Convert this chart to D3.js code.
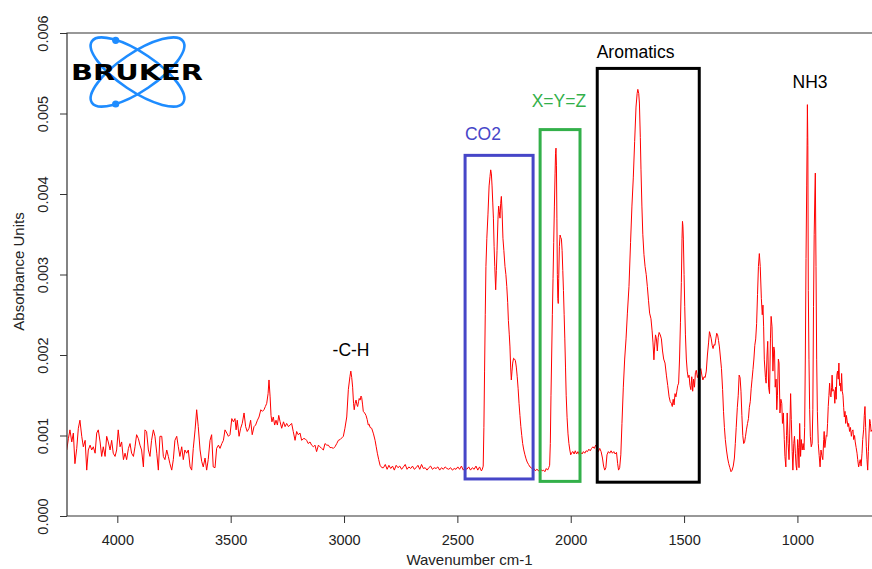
<!DOCTYPE html>
<html>
<head>
<meta charset="utf-8">
<script src="https://cdn.jsdelivr.net/npm/d3@7"></script>
<style>
  body { margin: 0; background: #fff; }
  svg text { font-family: "Liberation Sans", Arial, sans-serif; }
</style>
</head>
<body>
<svg id="chart" width="872" height="569"></svg>
<script>
// spectrum: [wavenumber cm-1, absorbance in 0.001 units]
const highWaveRegion = [
  [4223,0.82],[4216,0.96],[4209,1.07],[4201,0.92],[4194,1.03],[4187,0.65],[4179,0.84],[4172,1.09],[4165,1.19],[4157,0.99],
  [4150,0.86],[4142,0.94],[4135,0.57],[4128,0.82],[4120,0.88],[4113,0.82],[4106,0.86],[4098,0.78],[4091,1.03],[4084,1.07],
  [4076,0.92],[4069,0.74],[4062,0.86],[4054,0.74],[4047,0.99],[4040,0.92],[4032,0.82],[4025,0.94],[4018,0.78],[4010,0.74],
  [4003,0.82],[3996,1.07],[3988,0.86],[3981,0.92],[3973,0.70],[3966,0.78],[3959,0.70],[3951,0.84],[3944,0.90],[3937,0.78],
  [3929,0.74],[3922,0.86],[3915,1.01],[3907,0.96],[3900,0.88],[3893,0.82],[3885,0.61],[3878,1.07],[3871,1.05],[3863,0.82],
  [3856,0.74],[3849,0.94],[3841,1.07],[3834,0.99],[3826,0.78],[3819,0.57],[3812,0.99],[3804,0.99],[3797,0.74],[3790,0.70],
  [3782,0.82],[3775,0.74],[3768,0.65],[3760,0.57],[3753,0.70],[3746,0.94],[3738,0.99],[3731,0.86],[3724,0.74],[3716,0.86],
  [3709,0.70],[3702,0.82],[3694,0.78],[3687,0.82],[3679,0.61],[3672,0.57],[3665,0.84],[3657,1.07],[3650,1.32],[3643,1.11],
  [3635,0.82],[3628,0.68],[3621,0.61],[3613,0.72],[3606,0.57],[3599,0.70],[3591,0.94],[3584,1.01],[3577,0.61]
];

const ohBand = [
  [3569,0.60],[3562,0.84],[3554,0.88],[3547,0.84],[3539,0.90],[3532,0.94],[3525,1.07],[3517,1.03],[3510,0.99],[3503,1.01],
  [3495,1.21],[3488,1.17],[3481,1.21],[3476,1.07],[3471,1.19],[3463,0.99],[3456,1.09],[3449,1.15],[3441,1.28],[3434,1.11],
  [3427,1.05],[3419,1.09],[3412,1.19],[3405,1.01],[3397,1.11],[3390,1.13],[3382,1.19],[3375,1.23],[3367,1.32],[3360,1.30],
  [3353,1.32],[3347,1.36],[3341,1.40],[3335,1.52],[3331,1.69],[3326,1.48],[3322,1.25],[3318,1.17],[3312,1.23],[3306,1.13],
  [3300,1.19],[3294,1.13],[3288,1.25],[3282,1.17],[3275,1.09],[3267,1.17],[3260,1.11],[3253,1.15],[3245,1.11],[3238,1.13],
  [3231,1.15],[3224,1.05],[3216,0.94],[3209,1.05],[3202,1.01],[3194,1.03],[3187,0.94],[3180,0.96],[3172,0.96],[3165,0.94],
  [3158,0.90],[3150,0.92],[3143,0.88],[3135,0.86],[3128,0.88],[3121,0.80],[3113,0.88],[3106,0.86],[3099,0.84],[3091,0.82],
  [3084,0.90],[3076,0.88],[3069,0.88],[3062,0.85],[3054,0.85],[3047,0.84],[3040,0.86],[3032,0.90],[3025,0.94]
];

const chBand = [
  [3017,0.95],[3010,0.97],[3003,0.99],[2996,1.09],[2988,1.23],[2981,1.57],[2974,1.73],[2970,1.80],[2966,1.72],[2962,1.60],
  [2958,1.40],[2955,1.32],[2951,1.40],[2947,1.44],[2943,1.38],[2940,1.36],[2936,1.42],[2933,1.46],[2929,1.44],[2925,1.49],
  [2922,1.47],[2918,1.38],[2915,1.30],[2909,1.28],[2903,1.25],[2898,1.20],[2893,1.13],[2889,1.14],[2885,1.10],[2878,1.09],
  [2870,1.02],[2863,0.94],[2858,0.86],[2853,0.78],[2847,0.70],[2841,0.63],[2833,0.60]
];

const flatBaseline = [
  [2826,0.60],[2818,0.64],[2810,0.58],[2802,0.63],[2794,0.59],[2786,0.62],[2778,0.57],[2770,0.63],[2762,0.60],[2754,0.62],
  [2746,0.58],[2738,0.61],[2730,0.64],[2722,0.58],[2714,0.61],[2706,0.59],[2698,0.62],[2690,0.58],[2682,0.60],[2674,0.63],
  [2666,0.58],[2658,0.64],[2650,0.59],[2642,0.60],[2634,0.57],[2626,0.60],[2618,0.62],[2610,0.58],[2602,0.60],[2594,0.59],
  [2586,0.61],[2578,0.57],[2570,0.60],[2562,0.58],[2554,0.61],[2546,0.59],[2538,0.58],[2530,0.60],[2522,0.57],[2514,0.59],
  [2506,0.58],[2498,0.61],[2490,0.58],[2482,0.62],[2474,0.57],[2466,0.60],[2458,0.58],[2450,0.61],[2442,0.57],[2434,0.60],
  [2426,0.58],[2418,0.62],[2410,0.57],[2402,0.61],[2394,0.56],[2390,0.58]
];

const co2Band = [
  [2386,0.62],[2383,1.10],[2380,1.80],[2377,2.50],[2374,3.10],[2370,3.45],[2365,3.75],[2360,4.10],[2356,4.22],[2353,4.30],
  [2350,4.25],[2347,4.10],[2344,3.90],[2341,3.70],[2338,3.35],[2335,3.10],[2331,2.81],[2328,3.05],[2325,3.30],[2321,3.68],
  [2318,3.85],[2315,3.78],[2312,3.70],[2309,3.88],[2306,3.97],[2303,3.80],[2299,3.45],[2295,3.30],[2290,3.10],[2286,3.00],
  [2282,2.85],[2278,2.65],[2275,2.43],[2271,2.25],[2268,2.10],[2265,1.85],[2262,1.69],[2259,1.80],[2256,1.90],[2252,1.96],
  [2248,1.95],[2244,1.93],[2240,1.85],[2236,1.73],[2232,1.58],[2228,1.40],[2224,1.25],[2220,1.11],[2216,1.00],[2212,0.90],
  [2207,0.82],[2202,0.76],[2197,0.71],[2192,0.67],[2186,0.64],[2180,0.61],[2174,0.60],[2168,0.58],[2162,0.59],[2156,0.56],
  [2150,0.58],[2144,0.57],[2138,0.55],[2132,0.58],[2126,0.56],[2120,0.57],[2114,0.55],[2108,0.59],[2102,0.57],[2097,0.60],
  [2093,0.63]
];

const xyzBand = [
  [2090,0.90],[2087,1.50],[2084,2.00],[2081,2.50],[2078,2.95],[2075,3.40],[2072,3.85],[2069,4.25],[2067,4.50],[2065,4.57],
  [2063,4.35],[2061,3.70],[2059,3.00],[2057,2.70],[2055,2.64],[2053,2.95],[2050,3.35],[2047,3.49],[2044,3.46],[2041,3.44],
  [2038,3.30],[2035,3.05],[2032,2.80],[2029,2.50],[2026,2.20],[2023,1.85],[2020,1.50],[2016,1.22],[2012,1.02],[2008,0.90],
  [2004,0.82],[2000,0.76],[1995,0.79],[1990,0.80],[1985,0.77],[1980,0.81],[1974,0.77],[1968,0.80],[1962,0.76],[1956,0.79],
  [1950,0.77],[1944,0.80],[1938,0.78],[1932,0.81],[1926,0.80],[1920,0.83],[1914,0.81],[1908,0.84],[1902,0.86],[1896,0.84],
  [1890,0.88],[1884,0.85],[1878,0.80],[1872,0.84],[1866,0.80],[1860,0.72],[1855,0.62],[1850,0.57],[1845,0.60],[1840,0.76],
  [1834,0.80],[1828,0.78],[1822,0.81],[1816,0.78],[1810,0.80],[1804,0.77],[1798,0.79],[1793,0.65],[1789,0.57],[1784,0.60]
];

const aromaticBand = [
  [1779,0.76],[1774,1.15],[1768,1.60],[1762,1.95],[1756,2.20],[1750,2.52],[1743,2.85],[1736,3.40],[1730,3.85],[1724,4.20],
  [1718,4.65],[1712,5.08],[1707,5.25],[1704,5.30],[1700,5.25],[1697,5.13],[1693,4.70],[1690,4.30],[1686,3.85],[1682,3.50],
  [1677,3.25],[1672,3.10],[1667,3.00],[1662,2.85],[1657,2.68],[1652,2.52],[1646,2.45],[1641,2.30],[1637,2.15],[1633,1.94],
  [1630,2.10],[1626,2.25],[1622,2.20],[1618,2.05],[1614,2.22],[1610,2.28],[1605,2.25],[1600,2.20],[1595,2.05],[1590,1.95],
  [1584,1.90],[1578,1.75],[1572,1.62],[1566,1.48],[1561,1.42],[1556,1.40],[1552,1.36],[1548,1.45],[1544,1.38],[1540,1.52],
  [1536,1.48],[1532,1.55],[1528,1.62],[1524,1.65],[1520,1.95],[1516,2.40],[1512,2.90],[1509,3.45],[1507,3.66],[1505,3.60],
  [1503,3.43],[1500,3.00],[1497,2.60],[1494,2.25],[1490,1.95],[1486,1.80],[1482,1.72],[1478,1.75],[1474,1.62],[1470,1.57],
  [1466,1.73],[1462,1.55],[1458,1.70],[1454,1.60],[1450,1.78],[1446,1.81],[1441,1.72],[1436,1.76],[1431,1.80],[1426,1.83],
  [1421,1.74],[1417,1.69],[1412,1.73],[1407,1.72],[1402,1.80],[1397,2.00],[1392,2.15],[1388,2.29],[1384,2.25],[1380,2.20],
  [1376,2.12],[1372,2.08],[1368,2.13],[1364,2.12],[1360,2.20],[1356,2.27],[1352,2.25],[1348,2.18],[1344,2.10],[1339,1.95],
  [1335,1.83],[1330,1.57],[1326,1.30],[1322,1.10],[1318,0.95],[1313,0.82],[1308,0.72],[1303,0.65],[1298,0.60]
];

const fingerprint = [
  [1293,0.55],[1288,0.57],[1283,0.62],[1278,0.72],[1274,0.90],[1270,1.10],[1265,1.35],[1261,1.50],[1257,1.75],[1253,1.72],
  [1249,1.55],[1245,1.25],[1241,1.00],[1237,0.90],[1233,0.92],[1229,0.99],[1225,1.07],[1220,1.15],[1216,1.21],[1212,1.35],
  [1208,1.42],[1204,1.58],[1200,1.70],[1196,1.82],[1192,1.95],[1188,2.12],[1184,2.20],[1180,2.39],[1176,2.75],[1172,3.10],
  [1168,3.26],[1164,3.10],[1159,2.70],[1155,2.50],[1152,2.62],[1149,2.35],[1146,1.94],[1141,1.72],[1138,1.65],[1134,2.00],
  [1131,2.17],[1127,1.60],[1123,1.52],[1119,2.20],[1116,2.48],[1112,2.35],[1108,1.80],[1104,2.10],[1101,2.05],[1098,1.60],
  [1094,1.70],[1091,1.32],[1088,1.50],[1084,1.95],[1081,1.90],[1077,1.28],[1073,1.45],[1069,1.40],[1066,1.15],[1062,1.28],
  [1058,0.95],[1055,0.74],[1051,0.61],[1048,1.00],[1045,1.28],[1041,0.90],[1037,0.70],[1034,1.03],[1030,1.52],[1027,1.20],
  [1023,0.80],[1020,0.57],[1016,0.90],[1013,0.99],[1009,0.78],[1006,0.63],[1003,0.57],[999,0.95],[996,0.85],[993,0.60],
  [990,1.15],[986,0.74],[983,0.95],[979,0.82],[975,0.90],[971,0.82],[968,1.10],[965,2.00],[962,3.20],[959,4.10],
  [957,4.70],[956,5.11],[954,4.60],[952,2.80],[949,1.94],[946,1.32],[943,0.99],[939,0.86],[935,0.90],[932,1.32],
  [929,2.60],[926,3.50],[923,4.00],[921,4.26],[918,3.10],[915,1.94],[912,1.30],[908,0.90],[904,0.75],[900,0.61],
  [896,0.82],[892,0.75],[888,0.70],[884,0.95],[882,1.05],[879,0.85],[876,0.92],[873,1.00],[870,0.99],[867,1.15],
  [864,1.36],[861,1.50],[858,1.65],[855,1.50],[852,1.48],[849,1.60],[847,1.75],[844,1.55],[841,1.57],[838,1.55],
  [835,1.40],[832,1.60],[829,1.45],[826,1.75],[823,1.80],[820,1.70],[817,1.90],[814,1.62],[811,1.65],[808,1.55],
  [805,1.77],[802,1.55],[799,1.50],[796,1.35],[793,1.23],[790,1.30],[787,1.15],[784,1.25],[781,1.19],[777,1.11],
  [774,1.15],[770,1.05],[766,1.10],[762,0.99],[759,1.05],[755,1.07],[752,0.95],[748,1.00],[745,0.92],[741,0.85],
  [737,0.78],[734,0.70],[730,0.61],[727,0.65],[723,0.70],[719,0.62],[715,0.78],[712,0.95],[708,1.07],[705,1.25],
  [702,1.36],[699,1.10],[696,0.86],[693,0.70],[690,0.57],[687,0.80],[684,1.03],[681,1.20],[678,1.15],[675,1.05],
  [672,1.07]
];

const xTickValues = [4000, 3500, 3000, 2500, 2000, 1500, 1000];
const yTickValues = [0, 1, 2, 3, 4, 5, 6];

// highlighted bands, in data units
const annotationBoxes = [
  { wnFrom: 2466, wnTo: 2166, auFrom: 0.46, auTo: 4.48, color: '#4646c8' },
  { wnFrom: 2135, wnTo: 1959, auFrom: 0.43, auTo: 4.80, color: '#33b04a' },
  { wnFrom: 1883, wnTo: 1433, auFrom: 0.42, auTo: 5.56, color: '#000000' }
];

const annotationLabels = [
  { text: '-C-H', wn: 2969, au: 1.99, color: '#000000' },
  { text: 'CO2', wn: 2387, au: 4.67, color: '#4646c8' },
  { text: 'X=Y=Z', wn: 2052, au: 5.08, color: '#33b04a' },
  { text: 'Aromatics', wn: 1714, au: 5.69, color: '#000000' },
  { text: 'NH3', wn: 944, au: 5.32, color: '#000000' }
];

const spectrum = [].concat(highWaveRegion, ohBand, chBand, flatBaseline, co2Band, xyzBand, aromaticBand, fingerprint);

const plotLeft = 67, plotRight = 872, plotTop = 33, plotBottom = 516;
const axisColor = '#333';

const svg = d3.select('#chart');

const x = d3.scaleLinear().domain([4222, 671]).range([plotLeft, plotRight]);
const y = d3.scaleLinear().domain([0, 6]).range([plotBottom, plotTop]);

svg.append('defs').append('clipPath')
  .attr('id', 'plot-clip')
  .append('rect')
  .attr('x', plotLeft).attr('y', plotTop)
  .attr('width', plotRight - plotLeft).attr('height', plotBottom - plotTop);

// spectrum line
svg.append('path')
  .datum(spectrum)
  .attr('clip-path', 'url(#plot-clip)')
  .attr('fill', 'none')
  .attr('stroke', '#ff0000')
  .attr('stroke-width', 1)
  .attr('stroke-linejoin', 'round')
  .attr('d', d3.line().x(d => x(d[0])).y(d => y(d[1])));

// annotation boxes
svg.append('g')
  .selectAll('rect')
  .data(annotationBoxes)
  .enter().append('rect')
  .attr('x', d => x(d.wnFrom))
  .attr('y', d => y(d.auTo))
  .attr('width', d => x(d.wnTo) - x(d.wnFrom))
  .attr('height', d => y(d.auFrom) - y(d.auTo))
  .attr('fill', 'none')
  .attr('stroke', d => d.color)
  .attr('stroke-width', 3);

svg.append('g')
  .selectAll('text')
  .data(annotationLabels)
  .enter().append('text')
  .attr('x', d => x(d.wn))
  .attr('y', d => y(d.au))
  .attr('text-anchor', 'middle')
  .style('font-size', '17.5px')
  .attr('fill', d => d.color)
  .text(d => d.text);

// frame: top, left, bottom (right side runs off the picture)
svg.append('path')
  .attr('d', `M${plotRight + 5},${plotTop}H${plotLeft}V${plotBottom}H${plotRight + 5}`)
  .attr('fill', 'none')
  .attr('stroke', axisColor)
  .attr('stroke-width', 1.2);

// x axis
const gx = svg.append('g')
  .attr('transform', `translate(0,${plotBottom})`)
  .call(d3.axisBottom(x).tickValues(xTickValues).tickSize(7).tickFormat(d3.format('d')));
gx.select('.domain').remove();
gx.selectAll('line').attr('stroke', axisColor);
gx.selectAll('text')
  .attr('y', 29).attr('dy', null)
  .attr('fill', '#222')
  .style('font-size', '14.5px');

// y axis
const gy = svg.append('g')
  .attr('transform', `translate(${plotLeft},0)`)
  .call(d3.axisLeft(y).tickValues(yTickValues).tickSize(7).tickFormat(d => (d / 1000).toFixed(3)));
gy.select('.domain').remove();
gy.selectAll('line').attr('stroke', axisColor);
gy.selectAll('text')
  .attr('transform', 'rotate(-90)')
  .attr('x', 0).attr('y', -19).attr('dy', null)
  .attr('text-anchor', 'middle')
  .attr('fill', '#222')
  .style('font-size', '14.5px');

// axis titles
svg.append('text')
  .attr('x', (plotLeft + plotRight) / 2)
  .attr('y', 565)
  .attr('text-anchor', 'middle')
  .attr('fill', '#222')
  .style('font-size', '15px')
  .text('Wavenumber cm-1');

svg.append('text')
  .attr('transform', `translate(24,${(plotTop + plotBottom) / 2 - 3}) rotate(-90)`)
  .attr('text-anchor', 'middle')
  .attr('fill', '#222')
  .style('font-size', '15px')
  .text('Absorbance Units');

// Bruker logo
const logo = svg.append('g');
const cx = 137.5, cy = 72;
[34, -34].forEach(angle => {
  logo.append('ellipse')
    .attr('cx', cx).attr('cy', cy)
    .attr('rx', 55).attr('ry', 19)
    .attr('transform', `rotate(${angle},${cx},${cy})`)
    .attr('fill', 'none')
    .attr('stroke', '#1e8cff')
    .attr('stroke-width', 2.6);
});
[[115.7, 40.3], [115.7, 104]].forEach(p => {
  logo.append('circle')
    .attr('cx', p[0]).attr('cy', p[1]).attr('r', 3.6)
    .attr('fill', '#1e8cff');
});
logo.append('text')
  .attr('x', 71).attr('y', 80)
  .attr('textLength', 132)
  .attr('lengthAdjust', 'spacingAndGlyphs')
  .style('font-family', '"DejaVu Sans", sans-serif')
  .style('font-weight', 'bold')
  .style('font-size', '22px')
  .attr('fill', '#000')
  .text('BRUKER');
</script>
</body>
</html>
